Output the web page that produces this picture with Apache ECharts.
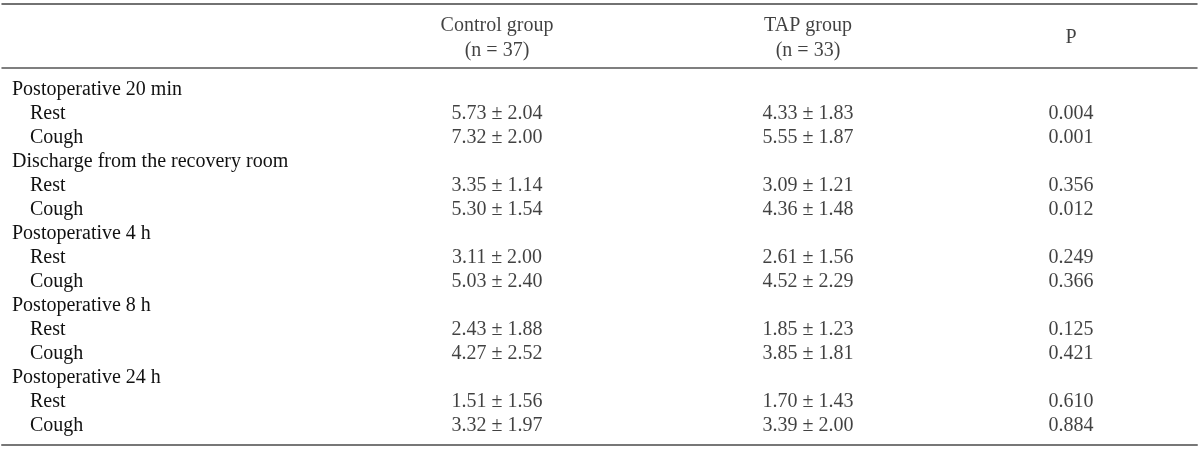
<!DOCTYPE html>
<html>
<head>
<meta charset="utf-8">
<script src="https://cdn.jsdelivr.net/npm/echarts@6/dist/echarts.min.js"></script>
<style>
  html, body { margin: 0; padding: 0; background: #fff; }
  #table { width: 1200px; height: 449px; }
</style>
</head>
<body>
<div id="table"></div>
<script>
// table contents
const timepoints = ['Postoperative 20 min', 'Discharge from the recovery room', 'Postoperative 4 h', 'Postoperative 8 h', 'Postoperative 24 h']
const conditions = ['Rest', 'Cough']
const headers = [['Control group', '(n = 37)'], ['TAP group', '(n = 33)'], ['P']]
const controlMean = [5.73, 7.32, 3.35, 5.30, 3.11, 5.03, 2.43, 4.27, 1.51, 3.32]
const controlSD = [2.04, 2.00, 1.14, 1.54, 2.00, 2.40, 1.88, 2.52, 1.56, 1.97]
const tapMean = [4.33, 5.55, 3.09, 4.36, 2.61, 4.52, 1.85, 3.85, 1.70, 3.39]
const tapSD = [1.83, 1.87, 1.21, 1.48, 1.56, 2.29, 1.23, 1.81, 1.43, 2.00]
const pValues = [0.004, 0.001, 0.356, 0.012, 0.249, 0.366, 0.125, 0.421, 0.610, 0.884]

const FONT = 'Liberation Serif'
const TEXT = '#111'
const colX = [495, 806, 1069] // column centres on the hidden x scale

// rows: a timepoint line followed by its Rest / Cough lines
const rowLabels = []
const controlCells = []
const tapCells = []
const pCells = []
timepoints.forEach((t, ti) => {
  rowLabels.push(t)
  conditions.forEach((c, ci) => {
    const k = ti * conditions.length + ci
    const row = rowLabels.length
    rowLabels.push(c)
    controlCells.push({ value: [colX[0], row], text: controlMean[k].toFixed(2) + ' ± ' + controlSD[k].toFixed(2) })
    tapCells.push({ value: [colX[1], row], text: tapMean[k].toFixed(2) + ' ± ' + tapSD[k].toFixed(2) })
    pCells.push({ value: [colX[2], row], text: pValues[k].toFixed(3) })
  })
})
const headerCells = headers.map((h, i) => ({ value: [colX[i], 0], text: h.join('\n') }))

const textStyle = { fontFamily: FONT, fontSize: 20, color: TEXT }

function cellSeries (data, xi, yi, dy) {
  return {
    type: 'scatter',
    xAxisIndex: xi,
    yAxisIndex: yi,
    symbolSize: 0,
    silent: true,
    data: data,
    label: {
      show: true,
      position: 'inside',
      align: 'center',
      verticalAlign: 'middle',
      lineHeight: 25,
      offset: [0, dy],
      ...textStyle,
      formatter: p => p.data.text
    }
  }
}

const rule = (color, width) => ({ show: true, lineStyle: { color: color, width: width } })
const hiddenAxis = { axisTick: { show: false }, axisLabel: { show: false }, splitLine: { show: false } }

const chart = echarts.init(document.getElementById('table'))
chart.setOption({
  animation: false,
  grid: [
    { left: 2, right: 3, top: 4, height: 64 },
    { left: 2, right: 3, top: 78, height: 360 }
  ],
  xAxis: [
    { gridIndex: 0, type: 'value', min: 0, max: 1195, position: 'top', axisLine: rule('#444', 1.5), ...hiddenAxis },
    { gridIndex: 1, type: 'value', min: 0, max: 1195, position: 'top', offset: 10, axisLine: rule('#555', 1.5), ...hiddenAxis },
    { gridIndex: 1, type: 'value', min: 0, max: 1195, position: 'bottom', offset: 7, axisLine: rule('#777', 2), ...hiddenAxis }
  ],
  yAxis: [
    { gridIndex: 0, type: 'category', data: ['header'], axisLine: { show: false }, ...hiddenAxis },
    {
      gridIndex: 1,
      type: 'category',
      inverse: true,
      data: rowLabels,
      axisLine: { show: false },
      axisTick: { show: false },
      splitLine: { show: false },
      axisLabel: {
        inside: true,
        interval: 0,
        margin: 10,
        align: 'left',
        ...textStyle,
        formatter: (v, i) => (i % 3 === 0 ? '{g|' + v + '}' : '{s|' + v + '}'),
        rich: {
          g: { ...textStyle },
          s: { ...textStyle, padding: [0, 0, 0, 18] }
        }
      }
    }
  ],
  series: [
    cellSeries(headerCells, 0, 0, 2),
    cellSeries(controlCells, 1, 1, 0),
    cellSeries(tapCells, 1, 1, 0),
    cellSeries(pCells, 1, 1, 0)
  ]
})
</script>
</body>
</html>
